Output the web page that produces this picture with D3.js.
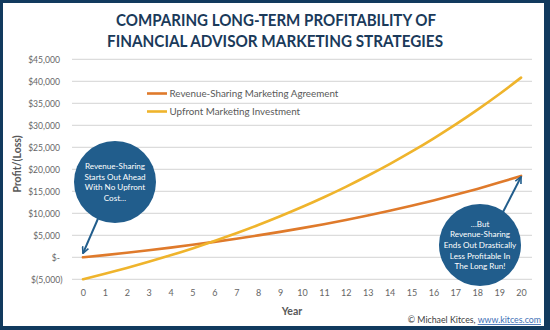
<!DOCTYPE html>
<html>
<head>
<meta charset="utf-8">
<script src="https://cdn.jsdelivr.net/npm/d3@7"></script>
<style>
  body { margin: 0; background: #fff; }
  text { font-family: Lato, "Open Sans", sans-serif; }
</style>
</head>
<body>
<div id="chart"></div>
<script>
const years = d3.range(0, 21);
const revenueSharing = [0, 500, 1040, 1600, 2200, 2840, 3510, 4220, 4980, 5780, 6630,
  7530, 8480, 9500, 10570, 11710, 12910, 14190, 15540, 16980, 18500];
const upfront = [-5000, -3750, -2430, -1030, 450, 2020, 3690, 5460, 7330, 9320, 11420,
  13650, 16020, 18530, 21180, 24000, 26990, 30150, 33510, 37060, 40830];
const yTicks = [-5000, 0, 5000, 10000, 15000, 20000, 25000, 30000, 35000, 40000, 45000];
const seriesNames = ["Revenue-Sharing Marketing Agreement", "Upfront Marketing Investment"];
const colors = ["#df7a2b", "#efb42c"];

const W = 550, H = 330;
const svg = d3.select("#chart").append("svg")
  .attr("width", W).attr("height", H);

// frame
svg.append("rect").attr("width", W).attr("height", H).attr("fill", "#113a5e");
svg.append("rect").attr("x", 3).attr("y", 3).attr("width", W - 9).attr("height", H - 7)
  .attr("fill", "#fff");

// title
const title = svg.append("g").attr("fill", "#1a3a5a").attr("font-weight", 700)
  .attr("font-size", 17).attr("text-anchor", "middle");
title.append("text").attr("x", 276).attr("y", 25.5)
  .attr("textLength", 320).attr("lengthAdjust", "spacingAndGlyphs")
  .text("COMPARING LONG-TERM PROFITABILITY OF");
title.append("text").attr("x", 275).attr("y", 47)
  .attr("textLength", 336).attr("lengthAdjust", "spacingAndGlyphs")
  .text("FINANCIAL ADVISOR MARKETING STRATEGIES");

const x = d3.scalePoint().domain(years).range([72, 532]).padding(0.5);
const y = d3.scaleLinear().domain([-5000, 45000]).range([279.3, 59.3]);

const money = v => v === 0 ? "$-" : v < 0 ? "$(" + d3.format(",")(-v) + ")" : "$" + d3.format(",")(v);

// grid
svg.append("g").selectAll("line").data(yTicks).join("line")
  .attr("x1", 72).attr("x2", 532)
  .attr("y1", d => y(d)).attr("y2", d => y(d))
  .attr("stroke", "#dcdcdc").attr("stroke-width", 1.2);

// y axis labels
const yAxis = svg.append("g").attr("transform", "translate(72,0)")
  .call(d3.axisLeft(y).tickValues(yTicks).tickFormat(money).tickSize(0).tickPadding(12));
yAxis.select(".domain").remove();
yAxis.selectAll("text").attr("font-family", "Lato, sans-serif").attr("font-size", 8.6)
  .attr("fill", "#666")
  .attr("dx", d => d < 0 ? 2.5 : 0);

// x axis labels
const xAxis = svg.append("g").attr("transform", `translate(0,${y(-5000)})`)
  .call(d3.axisBottom(x).tickSize(0).tickPadding(10));
xAxis.select(".domain").remove();
xAxis.selectAll("text").attr("font-family", "Lato, sans-serif").attr("font-size", 9)
  .attr("fill", "#666");

// axis titles
svg.append("text").attr("x", 292).attr("y", 314.5).attr("text-anchor", "middle")
  .attr("font-size", 10.5).attr("font-weight", 700).attr("fill", "#595959").text("Year");
svg.append("text").attr("transform", "translate(21,164) rotate(-90)")
  .attr("text-anchor", "middle").attr("font-size", 10.5).attr("font-weight", 700)
  .attr("fill", "#595959").text("Profit/(Loss)");

// lines
const line = d3.line().x((d, i) => x(years[i])).y(d => y(d)).curve(d3.curveMonotoneX);
[revenueSharing, upfront].forEach((s, i) => {
  svg.append("path").datum(s).attr("d", line)
    .attr("fill", "none").attr("stroke", colors[i]).attr("stroke-width", 2.6)
    .attr("stroke-linecap", "round");
});

// legend
const legend = svg.append("g");
seriesNames.forEach((name, i) => {
  const ly = 93.5 + i * 18;
  legend.append("line").attr("x1", 147).attr("x2", 167).attr("y1", ly).attr("y2", ly)
    .attr("stroke", colors[i]).attr("stroke-width", 2.6);
  legend.append("text").attr("x", 169.5).attr("y", ly + 3.5)
    .attr("font-size", 9.8).attr("fill", "#595959").text(name);
});

// callouts
const blue = "#215d8c";
svg.append("defs").append("marker").attr("id", "arrow")
  .attr("viewBox", "0 0 10 10").attr("refX", 9).attr("refY", 5)
  .attr("markerWidth", 4).attr("markerHeight", 4).attr("orient", "auto")
  .append("path").attr("d", "M1,1 L9,5 L1,9").attr("fill", "none")
  .attr("stroke", blue).attr("stroke-width", 2);

function callout(cx, cy, lines, from, to) {
  svg.append("line").attr("x1", from[0]).attr("y1", from[1])
    .attr("x2", to[0]).attr("y2", to[1])
    .attr("stroke", blue).attr("stroke-width", 2).attr("marker-end", "url(#arrow)");
  svg.append("circle").attr("cx", cx).attr("cy", cy).attr("r", 41).attr("fill", blue);
  const t = svg.append("text").attr("text-anchor", "middle").attr("fill", "#fff")
    .attr("font-size", 8.1);
  const top = cy - (lines.length - 1) * 10.6 / 2;
  lines.forEach((l, i) => {
    t.append("tspan").attr("x", cx).attr("y", top + i * 10.6 + 3).text(l);
  });
}

callout(115, 182, ["Revenue-Sharing", "Starts Out Ahead", "With No Upfront", "Cost…"],
  [100, 214], [x(0), y(revenueSharing[0]) - 4]);
callout(480, 245, ["…But", "Revenue-Sharing", "Ends Out Drastically", "Less Profitable In", "The Long Run!"],
  [503, 212], [x(20), y(revenueSharing[20]) + 1]);

// credit
const credit = svg.append("text").attr("x", 541).attr("y", 323).attr("text-anchor", "end")
  .attr("font-size", 8.8).attr("fill", "#404040");
credit.append("tspan").text("© Michael Kitces, ");
credit.append("tspan").attr("fill", "#3d6fb5").attr("text-decoration", "underline")
  .text("www.kitces.com");
</script>
</body>
</html>
